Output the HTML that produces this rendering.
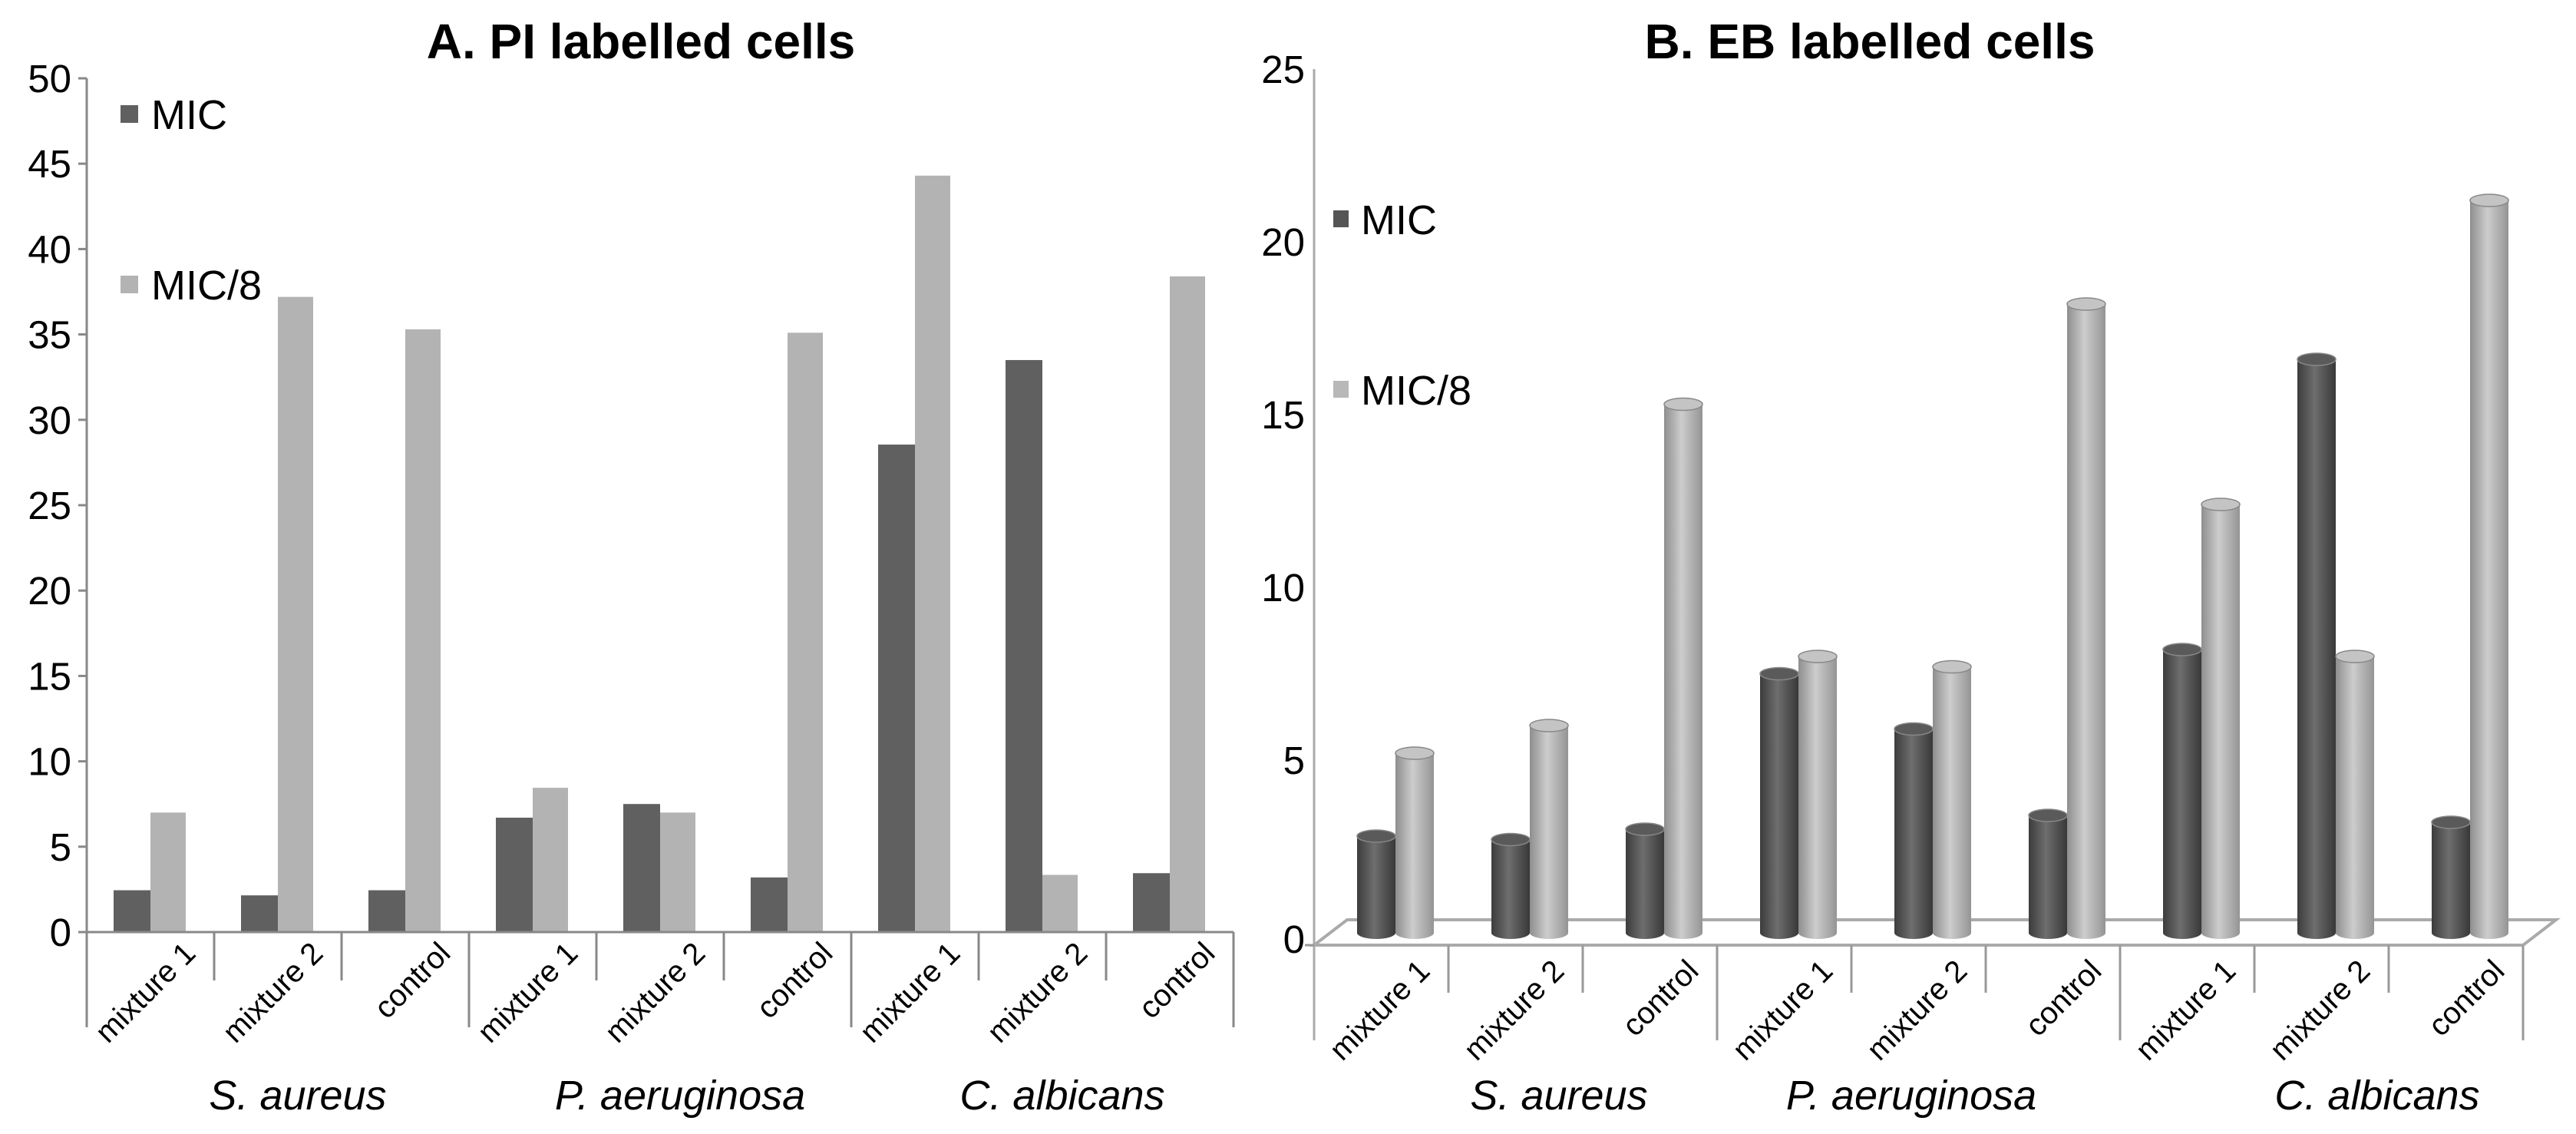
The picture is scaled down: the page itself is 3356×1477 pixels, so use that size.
<!DOCTYPE html>
<html><head><meta charset="utf-8"><style>
html,body{margin:0;padding:0;background:#fff;}
svg{display:block;font-family:"Liberation Sans",Arial,sans-serif;}
</style></head><body>
<svg id="c" width="3356" height="1477" viewBox="0 0 3356 1477" xmlns="http://www.w3.org/2000/svg">
<defs>
<linearGradient id="gd" x1="0" x2="1" y1="0" y2="0">
<stop offset="0" stop-color="#3c3c3c"/><stop offset="0.45" stop-color="#6e6e6e"/><stop offset="1" stop-color="#383838"/></linearGradient>
<linearGradient id="gl" x1="0" x2="1" y1="0" y2="0">
<stop offset="0" stop-color="#8e8e8e"/><stop offset="0.45" stop-color="#cdcdcd"/><stop offset="1" stop-color="#949494"/></linearGradient>
</defs>
<text x="835" y="76" font-size="64" font-weight="bold" text-anchor="middle">A. PI labelled cells</text>
<text x="2436" y="76" font-size="64" font-weight="bold" text-anchor="middle">B. EB labelled cells</text>
<g id="A"></g>
<g id="B"></g>
</svg>
<script>
const categories = ["mixture 1","mixture 2","control","mixture 1","mixture 2","control","mixture 1","mixture 2","control"];
const groups = ["S. aureus","P. aeruginosa","C. albicans"];
const seriesNames = ["MIC","MIC/8"];
const aMIC = [2.45,2.15,2.45,6.7,7.5,3.2,28.55,33.5,3.45];
const aMIC8 = [7.0,37.2,35.3,8.45,7.0,35.1,44.3,3.35,38.4];
const aTicks = [0,5,10,15,20,25,30,35,40,45,50];
const bMIC = [2.8,2.7,3.0,7.5,5.9,3.4,8.2,16.6,3.2];
const bMIC8 = [5.2,6.0,15.3,8.0,7.7,18.2,12.4,8.0,21.2];
const bTicks = [0,5,10,15,20,25];

const NS="http://www.w3.org/2000/svg";
function mk(parent,tag,attrs,txt){const e=document.createElementNS(NS,tag);for(const k in attrs)e.setAttribute(k,attrs[k]);if(txt!==undefined)e.textContent=txt;parent.appendChild(e);return e;}

// ---------- Chart A ----------
const A=document.getElementById('A');
const ax0=113, ay0=1214, aPx=22.24, aCat=166;
const ay=v=>ay0-v*aPx;
const ax=i=>ax0+i*aCat;
for(const t of aTicks){
  const ln=mk(A,'line',{x1:ax0-11,x2:ax0,y1:ay(t),y2:ay(t),stroke:'#888','stroke-width':3});
  
  
  const tx=mk(A,'text',{x:ax0-20,y:ay(t)+18,'font-size':51,'text-anchor':'end'},String(t));
  
  
}
const aAxis=mk(A,'line',{x1:ax0,x2:ax0,y1:ay(50),y2:1338,stroke:'#888','stroke-width':3});


categories.forEach((c,i)=>{
  const x=ax(i), cx=x+aCat/2;
  const b1=mk(A,'rect',{x:cx-48,y:ay(aMIC[i]),width:48,height:aMIC[i]*aPx,fill:'#606060'});
  
  
  const b2=mk(A,'rect',{x:cx,y:ay(aMIC8[i]),width:46,height:aMIC8[i]*aPx,fill:'#b3b3b3'});
  
  
  const xe=x+aCat;
  const d=mk(A,'line',{x1:xe,x2:xe,y1:ay0,y2:((i+1)%3===0)?1338:1277,stroke:'#888','stroke-width':3});
  
  
  const lx=xe-22, ly=ay0+30;
  const lab=mk(A,'text',{x:lx,y:ly,'font-size':40,'text-anchor':'end',transform:`rotate(-45 ${lx} ${ly})`},c);
  
  
});
const aBase=mk(A,'line',{x1:ax0-10,x2:ax(9),y1:ay0,y2:ay0,stroke:'#888','stroke-width':3});


groups.forEach((g,k)=>{
  const t=mk(A,'text',{x:ax(3*k)+1.5*aCat+26,y:1445,'font-size':54,'font-style':'italic','text-anchor':'middle'},g);
  
  
});
const aLeg=[[148,'#606060'],[370,'#b3b3b3']];
seriesNames.forEach((s,k)=>{
  const r=mk(A,'rect',{x:157,y:aLeg[k][0]-11,width:23,height:23,fill:aLeg[k][1]});
  
  
  const t=mk(A,'text',{x:197,y:aLeg[k][0]+20,'font-size':54},s);
  
  
});

// ---------- Chart B ----------
const B=document.getElementById('B');
const bx0=1712, by0=1215, bPx=45, bCat=175, front=1231, back=1198, dep=43;
const by=v=>by0-v*bPx;
const bx=i=>bx0+i*bCat;
const n=categories.length;
const floor=mk(B,'path',{d:`M${bx0} ${front} L${bx0+dep} ${back} L${bx(n)+dep} ${back} L${bx(n)} ${front} Z`,fill:'none',stroke:'#aaa','stroke-width':4});


const bAxis=mk(B,'line',{x1:bx0,x2:bx0,y1:by(25),y2:1355,stroke:'#aaa','stroke-width':3});


for(const t of bTicks){
  const tx=mk(B,'text',{x:bx0-12,y:(t===0?front-8:by(t))+18,'font-size':51,'text-anchor':'end'},String(t));
  
  
}
function cyl(x,w,v,grad,top,name){
  const g=mk(B,'g',{});
  
  
  const yt=by(v), ry=8;
  mk(g,'path',{d:`M${x} ${yt} L${x} ${by0} A${w/2} ${ry} 0 0 0 ${x+w} ${by0} L${x+w} ${yt} Z`,fill:`url(#${grad})`});
  mk(g,'ellipse',{cx:x+w/2,cy:yt,rx:w/2,ry:ry,fill:top,stroke:'#888','stroke-width':1.5});
}
categories.forEach((c,i)=>{
  const x=bx(i);
  cyl(x+56,50,bMIC[i],'gd','#5a5a5a','bar-b-mic');
  cyl(x+106,50,bMIC8[i],'gl','#c4c4c4','bar-b-mic8');
  const xe=x+bCat;
  const d=mk(B,'line',{x1:xe,x2:xe,y1:front,y2:((i+1)%3===0)?1355:1293,stroke:'#999','stroke-width':3});
  
  
  const lx=xe-22, ly=front+36;
  const lab=mk(B,'text',{x:lx,y:ly,'font-size':40,'text-anchor':'end',transform:`rotate(-45 ${lx} ${ly})`},c);
  
  
});
const bTick=mk(B,'line',{x1:bx0-12,x2:bx0,y1:front,y2:front,stroke:'#999','stroke-width':3});


const bGX=[2031,2490,3097];
groups.forEach((g,k)=>{
  const t=mk(B,'text',{x:bGX[k],y:1445,'font-size':54,'font-style':'italic','text-anchor':'middle'},g);
  
  
});
const bLeg=[[285,'#555'],[507,'#b8b8b8']];
seriesNames.forEach((s,k)=>{
  const r=mk(B,'rect',{x:1737,y:bLeg[k][0]-11,width:20,height:22,fill:bLeg[k][1]});
  
  
  const t=mk(B,'text',{x:1773,y:bLeg[k][0]+20,'font-size':54},s);
  
  
});
</script>
</body></html>
